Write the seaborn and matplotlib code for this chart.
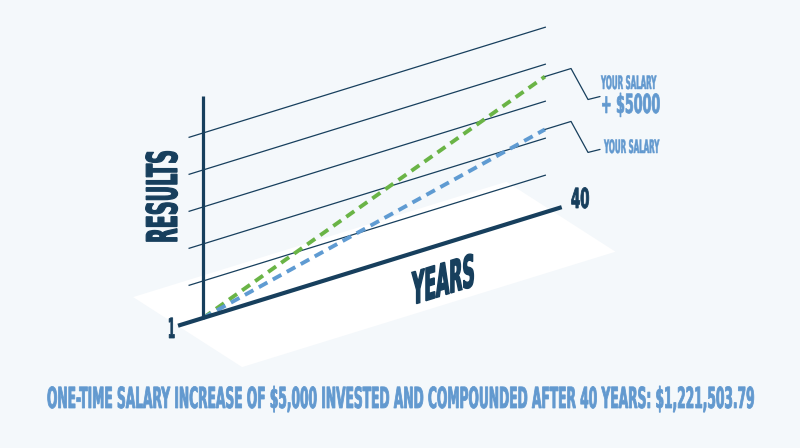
import math
import numpy as np
import pandas as pd
import matplotlib
matplotlib.use("Agg")
import matplotlib.pyplot as plt
import seaborn as sns
from matplotlib import patheffects
from matplotlib.transforms import Affine2D
from matplotlib.textpath import TextPath
from matplotlib.font_manager import FontProperties

# ---------------- data ----------------
years = [1, 40]
your_salary = [0.0, 2.24]          # results, in grid units
salary_plus_5000 = [0.0, 3.67]     # results, in grid units
grid_levels = [1, 2, 3, 4, 5]
year_tick_labels = ["1", "40"]
axis_titles = ["RESULTS", "YEARS"]
series_names = ["YOUR SALARY", "YOUR SALARY + $5000"]
caption = ("ONE-TIME SALARY INCREASE OF $5,000 INVESTED AND COMPOUNDED "
           "AFTER 40 YEARS: $1,221,503.79")

# ---------------- style ----------------
NAVY = "#173f5d"
GREEN = "#6ab446"
BLUE = "#5f9bd2"
TEXT_BLUE = "#6299cf"
BG = "#f4f8fb"
PLANE = "#ffffff"

sns.set_theme(style="white")
plt.rcParams["font.family"] = ["DejaVu Sans"]

fig = plt.figure(figsize=(8, 4.48), dpi=100, facecolor=BG)
ax = fig.add_axes([0, 0, 1, 1])
ax.set_facecolor(BG)
ax.set_xlim(0, 800)
ax.set_ylim(448, 0)
ax.axis("off")

# oblique projection: wall (year, result) and floor (year, depth)
wall_aff = Affine2D(np.array([[8.77, 0.0, 203 - 8.77],
                              [-2.71, -37.0, 318 + 2.71],
                              [0, 0, 1]]))
floor_aff = Affine2D(np.array([[8.77, 109.0, 203 - 8.77],
                               [-2.71, 70.0, 318 + 2.71],
                               [0, 0, 1]]))
wall = wall_aff + ax.transData
floor = floor_aff + ax.transData

# floor plane
ax.fill([-1.87, 40.7, 40.7, -1.87], [-0.41, -0.41, 0.59, 0.59],
        transform=floor, color=PLANE, lw=0, zorder=0)

# grid lines
for g in grid_levels:
    ax.plot([-0.65, 40.1], [g, g], transform=wall, color=NAVY, lw=0.9,
            solid_capstyle="butt", zorder=1)

# axes
ax.plot([1, 1], [0, 6.0], transform=wall, color=NAVY, lw=2.3,
        solid_capstyle="butt", zorder=3)
ax.plot([-1.85, 41.9], [0, 0], transform=wall, color=NAVY, lw=3.0,
        solid_capstyle="butt", zorder=4)

# series
df = pd.DataFrame({
    "year": years + years,
    "value": your_salary + salary_plus_5000,
    "series": [series_names[0]] * len(years) + [series_names[1]] * len(years),
})
for name, col in [(series_names[1], GREEN), (series_names[0], BLUE)]:
    sub = df[df["series"] == name]
    sns.lineplot(data=sub, x="year", y="value", ax=ax, color=col, lw=2.8,
                 linestyle=(0, (2.5, 1.6)), transform=wall, zorder=2,
                 legend=False)

# leader lines from series end points
offsets = np.array([[0, 0], [26, -8], [43, 23], [55, 20]])
for vals in (salary_plus_5000, your_salary):
    ax_pt = wall_aff.transform((years[-1], vals[-1]))
    pts = ax_pt + offsets
    ax.plot(pts[:, 0], pts[:, 1], color=NAVY, lw=0.9, zorder=2)

ax.set_xlim(0, 800)
ax.set_ylim(448, 0)
ax.axis("off")


# ---------------- condensed / sheared text ----------------
class Warp(patheffects.AbstractPathEffect):
    def __init__(self, sy=1.0, shear=0.0, stroke_px=0.0):
        super().__init__()
        self.local = Affine2D().scale(1.0, sy).skew(0.0, math.atan(shear))
        self.stroke = stroke_px * 0.72

    def draw_path(self, renderer, gc, tpath, affine, rgbFace=None):
        gc0 = renderer.new_gc()
        gc0.copy_properties(gc)
        if self.stroke > 0 and rgbFace is not None:
            gc0.set_linewidth(self.stroke)
            gc0.set_foreground(rgbFace)
            gc0.set_joinstyle("miter")
        renderer.draw_path(gc0, tpath, self.local + affine, rgbFace)
        gc0.restore()


FP = FontProperties(family="DejaVu Sans", weight="bold")


def esc(s):
    return s.replace("$", r"\$")


def label(x, y, s, cap, width, color, rotation=0, shear=0.0, stroke=0.6):
    # pick the font size that gives the wanted width, then stretch vertically
    w1 = TextPath((0, 0), esc(s), size=100, prop=FP).get_extents().width
    size_px = 100 * (width - stroke) / w1
    sy = (cap - stroke) / (size_px * 0.729)
    ax.text(x, y, s, family="DejaVu Sans", weight="bold",
            fontsize=size_px * 0.72, color=color, ha="left", va="baseline",
            rotation=rotation, rotation_mode="anchor", zorder=5,
            parse_math=False, path_effects=[Warp(sy, shear, stroke)])


label(177, 243, axis_titles[0], 32, 91, NAVY, rotation=90, stroke=1.2)
label(412, 305, axis_titles[1], 34, 63, NAVY, shear=0.309, stroke=1.4)
label(168, 338, year_tick_labels[0], 21, 6, NAVY, stroke=0.8)
label(571, 208, year_tick_labels[1], 21, 18, NAVY, stroke=0.8)
label(601, 89, "YOUR SALARY", 14, 56, TEXT_BLUE, stroke=0.5)
label(601, 113, "+ $5000", 20, 58, TEXT_BLUE, stroke=0.7)
label(604, 153, "YOUR SALARY", 14, 56, TEXT_BLUE, stroke=0.5)
label(47, 408, caption, 22, 707, TEXT_BLUE, stroke=0.8)

fig.savefig("out.png", dpi=100, facecolor=BG)
